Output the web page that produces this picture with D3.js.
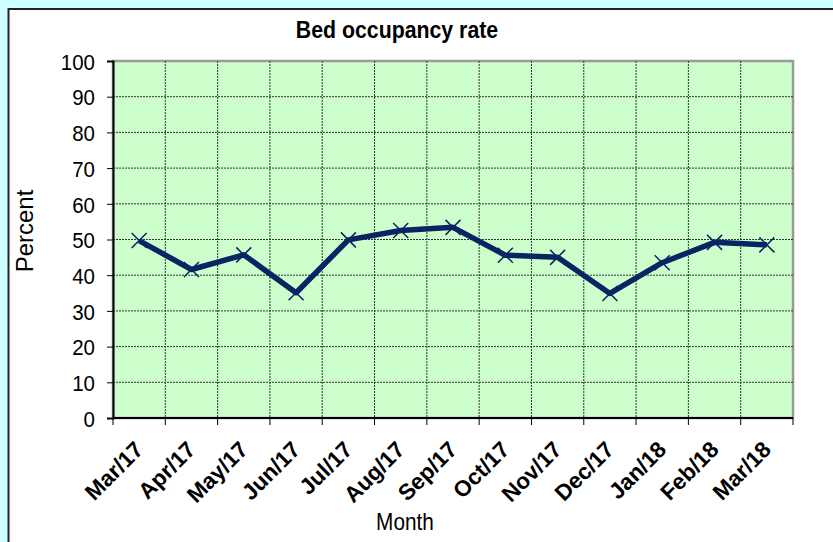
<!DOCTYPE html>
<html>
<head>
<meta charset="utf-8">
<script src="https://cdn.jsdelivr.net/npm/d3@7"></script>
<style>
  body { margin: 0; background: #ccffff; }
  svg { display: block; font-family: "Liberation Sans", Arial, sans-serif; }
</style>
</head>
<body>
<div id="chart"></div>
<script>
// months and bed occupancy (%)
var months = ["Mar/17", "Apr/17", "May/17", "Jun/17", "Jul/17", "Aug/17", "Sep/17",
  "Oct/17", "Nov/17", "Dec/17", "Jan/18", "Feb/18", "Mar/18"];
var occupancy = [49.7, 41.6, 45.7, 35.1, 49.9, 52.5, 53.4, 45.6, 45.0, 34.9, 43.5, 49.2, 48.5];
var yTicks = [0, 10, 20, 30, 40, 50, 60, 70, 80, 90, 100];

var width = 833, height = 542;
var plot = { left: 113, top: 61, right: 793, bottom: 418 };
var stretch = 1.12; // text in the picture is a little taller than wide

var svg = d3.select("#chart").append("svg")
  .attr("width", width)
  .attr("height", height);

// white chart panel
svg.append("rect")
  .attr("x", 8.5).attr("y", 9)
  .attr("width", width + 10).attr("height", height + 10)
  .attr("fill", "#fff")
  .attr("stroke", "#222")
  .attr("stroke-width", 2);

var x = d3.scaleBand().domain(months).range([plot.left, plot.right]);
var y = d3.scaleLinear().domain([0, 100]).range([plot.bottom, plot.top]);

// plot area
svg.append("rect")
  .attr("x", plot.left).attr("y", plot.top)
  .attr("width", plot.right - plot.left).attr("height", plot.bottom - plot.top)
  .attr("fill", "#ccffcc")
  .attr("stroke", "#999")
  .attr("stroke-width", 2.5);

// gridlines
var boundaries = months.map(function (m) { return x(m); }).concat([plot.right]);
svg.append("g").selectAll("line")
  .data(boundaries.slice(1, -1))
  .enter().append("line")
  .attr("x1", function (d) { return d; }).attr("x2", function (d) { return d; })
  .attr("y1", plot.top).attr("y2", plot.bottom)
  .attr("stroke", "#333").attr("stroke-width", 1).attr("stroke-dasharray", "2,1");

svg.append("g").selectAll("line")
  .data(yTicks.slice(1, -1))
  .enter().append("line")
  .attr("x1", plot.left).attr("x2", plot.right)
  .attr("y1", function (d) { return y(d); }).attr("y2", function (d) { return y(d); })
  .attr("stroke", "#333").attr("stroke-width", 1).attr("stroke-dasharray", "2,1");

// y axis
var yAxis = svg.append("g")
  .attr("transform", "translate(" + plot.left + ",0)")
  .call(d3.axisLeft(y).tickValues(yTicks).tickSize(6).tickPadding(0));
yAxis.select(".domain").attr("stroke", "#000").attr("stroke-width", 2);
yAxis.selectAll(".tick line").attr("stroke", "#000");
yAxis.selectAll(".tick text").remove();
yAxis.selectAll(".tick").append("text")
  .attr("transform", "translate(-18,0) scale(1," + stretch + ")")
  .attr("dy", "0.36em")
  .attr("text-anchor", "end")
  .attr("font-size", 20.5)
  .attr("fill", "#000")
  .attr("font-family", "Liberation Sans, Arial, sans-serif")
  .text(function (d) { return d; });

// x axis: ticks on category boundaries
var xAxis = svg.append("g")
  .attr("transform", "translate(0," + plot.bottom + ")");
xAxis.append("line")
  .attr("x1", plot.left).attr("x2", plot.right)
  .attr("stroke", "#000").attr("stroke-width", 2);
xAxis.selectAll(".bt")
  .data(boundaries)
  .enter().append("line")
  .attr("class", "bt")
  .attr("x1", function (d) { return d; }).attr("x2", function (d) { return d; })
  .attr("y1", 0).attr("y2", 7)
  .attr("stroke", "#000");
xAxis.selectAll("text")
  .data(months)
  .enter().append("text")
  .attr("transform", function (d) {
    return "translate(" + (x(d) + x.bandwidth() / 2 + 5.5) + ",33) rotate(-45)";
  })
  .attr("text-anchor", "end")
  .attr("font-size", 22.5)
  .attr("font-weight", "bold")
  .text(function (d) { return d; });

// titles
svg.append("text")
  .attr("transform", "translate(397,38) scale(1," + stretch + ")")
  .attr("text-anchor", "middle")
  .attr("font-size", 21.3).attr("font-weight", "bold")
  .text("Bed occupancy rate");

svg.append("text")
  .attr("transform", "translate(33,231) rotate(-90)")
  .attr("text-anchor", "middle")
  .attr("font-size", 24)
  .text("Percent");

svg.append("text")
  .attr("transform", "translate(405,530) scale(1," + stretch + ")")
  .attr("text-anchor", "middle")
  .attr("font-size", 20.8)
  .text("Month");

// series
var pts = months.map(function (m, i) {
  return { x: x(m) + x.bandwidth() / 2, y: y(occupancy[i]) };
});

svg.append("path")
  .datum(pts)
  .attr("fill", "none")
  .attr("stroke", "#0a2463")
  .attr("stroke-width", 5.5)
  .attr("stroke-linejoin", "round")
  .attr("d", d3.line().x(function (d) { return d.x; }).y(function (d) { return d.y; }));

var s = 7.5;
svg.append("g").selectAll("path")
  .data(pts)
  .enter().append("path")
  .attr("d", function (d) {
    return "M" + (d.x - s) + "," + (d.y - s) + "L" + (d.x + s) + "," + (d.y + s) +
      "M" + (d.x - s) + "," + (d.y + s) + "L" + (d.x + s) + "," + (d.y - s);
  })
  .attr("stroke", "#0a2463")
  .attr("stroke-width", 1.5)
  .attr("fill", "none");
</script>
</body>
</html>
